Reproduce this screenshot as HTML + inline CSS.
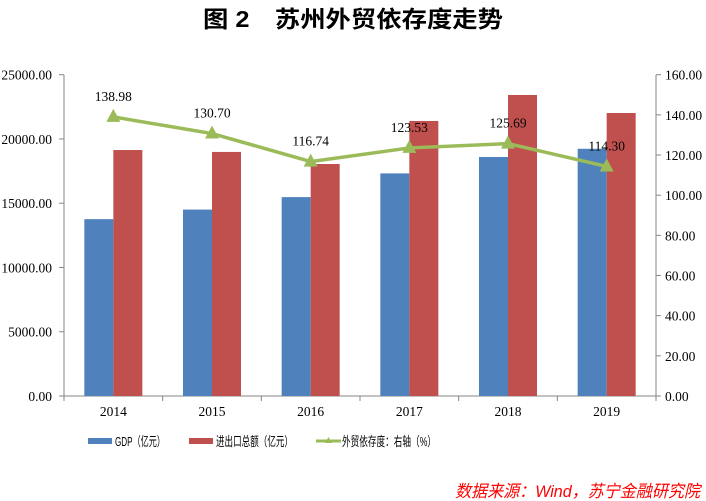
<!DOCTYPE html>
<html><head><meta charset="utf-8">
<style>
body{margin:0;background:#fff;width:706px;height:501px;overflow:hidden;}
svg{display:block;}
</style></head>
<body>
<svg id="chart" width="706" height="501" xmlns="http://www.w3.org/2000/svg" font-family="'Liberation Serif','Noto Serif CJK SC',serif">
<text x="203" y="27" textLength="300" lengthAdjust="spacingAndGlyphs" font-size="23" font-weight="bold" font-family="'Liberation Sans','Noto Sans CJK SC',sans-serif">图 2　苏州外贸依存度走势</text>
<g id="axes"></g>
<g id="bars"></g>
<g id="line"></g>
<g font-family="'Liberation Sans','Noto Sans CJK SC',sans-serif" font-size="13">
<rect x="88" y="438" width="24" height="6" fill="#4f81bd"/>
<text x="115" y="446" textLength="50" lengthAdjust="spacingAndGlyphs">GDP（亿元）</text>
<rect x="189" y="438" width="24" height="6" fill="#c0504d"/>
<text x="216" y="446" textLength="77" lengthAdjust="spacingAndGlyphs">进出口总额（亿元）</text>
<line x1="316" y1="441" x2="341" y2="441" stroke="#9bbb59" stroke-width="3"/>
<polygon points="328.5,437 332,443 325,443" fill="#9bbb59"/>
<text x="342" y="446" textLength="94" lengthAdjust="spacingAndGlyphs">外贸依存度：右轴（%）</text>
</g>
<text x="455" y="497" textLength="245" lengthAdjust="spacingAndGlyphs" font-size="17" font-style="italic" fill="#ff0000" font-family="'Liberation Sans','Noto Sans CJK SC',sans-serif">数据来源：Wind，苏宁金融研究院</text>
</svg>
<script>
const categories=['2014','2015','2016','2017','2018','2019'];
const gdpValues=[13760,14504,15475,17320,18597,19236];
const tradeValues=[19140,18990,18050,21400,23420,22020];
const ratioValues=[138.98,130.70,116.74,123.53,125.69,114.30];
const leftTicks=[0,5000,10000,15000,20000,25000];
const rightTicks=[0,20,40,60,80,100,120,140,160];

const NS='http://www.w3.org/2000/svg';
const X0=64,X1=656,Y0=396,Y1=74.7;
const band=(X1-X0)/categories.length;
const xc=i=>X0+band*(i+0.5);
const yL=v=>Y0-(v/25000)*(Y0-Y1);
const yR=v=>Y0-(v/160)*(Y0-Y1);
function mk(tag,attrs,parent){const e=document.createElementNS(NS,tag);for(const k in attrs)e.setAttribute(k,attrs[k]);parent.appendChild(e);return e;}
const axes=document.getElementById('axes'),bars=document.getElementById('bars'),line=document.getElementById('line');

let e=mk('line',{x1:X0,y1:Y1,x2:X0,y2:Y0,stroke:'#868686'},axes);


e=mk('line',{x1:X1,y1:Y1,x2:X1,y2:Y0,stroke:'#868686'},axes);


e=mk('line',{x1:X0,y1:Y0,x2:X1,y2:Y0,stroke:'#868686'},axes);


leftTicks.forEach(v=>{
  mk('line',{x1:X0-5,y1:yL(v),x2:X0,y2:yL(v),stroke:'#868686'},axes);
  const t=mk('text',{x:X0-12,y:yL(v)+5,'text-anchor':'end','font-size':13.5},axes);
  t.textContent=v.toFixed(2);
  
  
});
rightTicks.forEach(v=>{
  mk('line',{x1:X1,y1:yR(v),x2:X1+5,y2:yR(v),stroke:'#868686'},axes);
  const t=mk('text',{x:X1+9,y:yR(v)+5,'font-size':13.5},axes);
  t.textContent=v.toFixed(2);
  
  
});
for(let i=0;i<=categories.length;i++){mk('line',{x1:X0+band*i,y1:Y0,x2:X0+band*i,y2:Y0+5,stroke:'#868686'},axes);}
categories.forEach((c,i)=>{
  const t=mk('text',{x:xc(i),y:Y0+20,'text-anchor':'middle','font-size':13.5},axes);
  t.textContent=c;
  
  
});
const bw=29;
categories.forEach((c,i)=>{
  const b1=mk('rect',{x:xc(i)-bw,y:yL(gdpValues[i]),width:bw,height:Y0-yL(gdpValues[i]),fill:'#4f81bd'},bars);
  
  
  const b2=mk('rect',{x:xc(i),y:yL(tradeValues[i]),width:bw,height:Y0-yL(tradeValues[i]),fill:'#c0504d'},bars);
  
  
});
const pts=ratioValues.map((v,i)=>xc(i)+','+yR(v)).join(' ');
const pl=mk('polyline',{points:pts,fill:'none',stroke:'#9bbb59','stroke-width':3.5},line);


ratioValues.forEach((v,i)=>{
  const x=xc(i),y=yR(v);
  const m=mk('polygon',{points:`${x},${y-8} ${x+7},${y+5} ${x-7},${y+5}`,fill:'#9bbb59'},line);
  
  
  const t=mk('text',{x:x,y:y-16,'text-anchor':'middle','font-size':13.5},line);
  t.textContent=v.toFixed(2);
  
  
});
</script>
</body></html>
